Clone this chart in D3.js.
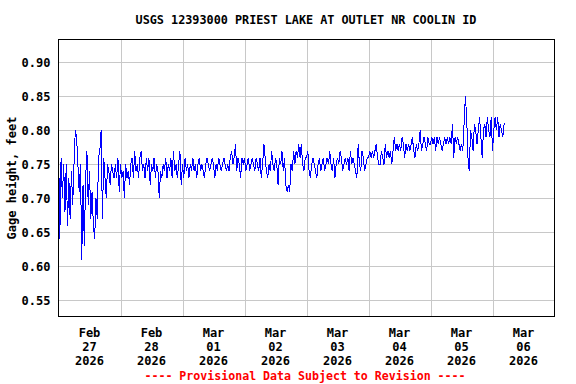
<!DOCTYPE html>
<html><head><meta charset="utf-8">
<script src="https://cdn.jsdelivr.net/npm/d3@7"></script>
<style>html,body{margin:0;padding:0;background:#fff;} svg{display:block}</style>
</head><body><svg id="c" width="576" height="384"></svg>
<script>
const title = "USGS 12393000 PRIEST LAKE AT OUTLET NR COOLIN ID";
const yTitle = "Gage height, feet";
const footer = "---- Provisional Data Subject to Revision ----";

// Gage height readings in hundredths of a foot, every 30 minutes from Feb 27 2026 00:00
const feb27 = [79,64,76,70,75,68,75,66,73,67,74,69,75,80,79,75,71,75,61,72,63,73,77,69,74,67,71,66,64,70,67,76,77,80,67,76,73,70,75,74,72,75,74,73,75,73,76,71];
const feb28 = [75,73,74,70,75,73,74,72,75,76,73,77,74,75,73,76,77,74,75,73,76,74,76,72,75,74,76,73,75,74,70,74,73,75,74,76,73,75,74,76,73,77,74,75,73,75,77,72];
const mar01 = [75,73,76,74,75,73,75,74,76,74,75,73,75,76,74,75,74,73,75,76,75,74,75,76,75,73,75,74,76,75,74,75,76,75,74,75,74,76,77,75,76,78,74,76,75,73,76,75];
const mar02 = [76,74,75,76,74,75,76,75,74,76,75,74,76,73,75,78,76,74,73,75,74,77,75,74,76,75,72,76,75,77,74,76,72,71,72,71,75,74,77,75,77,76,78,76,78,75,74,76];
const mar03 = [76,77,74,73,75,76,75,74,73,75,76,74,75,76,74,75,76,75,77,75,74,76,73,75,76,75,77,76,74,75,76,75,76,74,77,75,76,75,74,73,78,75,74,77,76,74,75,76];
const mar04 = [76,77,76,77,76,77,78,76,75,75,77,76,75,78,76,77,76,77,75,77,79,77,78,77,78,77,79,78,76,78,77,78,77,78,79,77,76,78,77,78,80,77,78,79,78,77,79,78];
const mar05 = [78,79,78,79,77,79,78,79,78,77,78,79,78,79,78,79,78,81,76,79,78,79,78,77,78,77,81,85,82,76,74,80,79,77,81,80,78,80,82,79,76,80,81,79,82,80,79,82];
const mar06 = [77,80,82,80,82,79,81,80,79,81,81];

const yTicks = [0.55, 0.60, 0.65, 0.70, 0.75, 0.80, 0.85, 0.90];
const dayLabels = [["Feb","27","2026"],["Feb","28","2026"],["Mar","01","2026"],["Mar","02","2026"],["Mar","03","2026"],["Mar","04","2026"],["Mar","05","2026"],["Mar","06","2026"]];

const startMs = Date.UTC(2026, 1, 27, 0, 0);
const endMs = Date.UTC(2026, 2, 7, 0, 0);
const stepMs = 30 * 60 * 1000;
const dayMs = 24 * 3600 * 1000;

const values = [].concat(feb27, feb28, mar01, mar02, mar03, mar04, mar05, mar06);
const series = values.map((v, i) => ({t: new Date(startMs + i * stepMs), v: v / 100}));

const svg = d3.select("#c");
const L = 58.5, R = 554.5, T = 39.5, B = 316.5;
const x = d3.scaleUtc().domain([new Date(startMs), new Date(endMs)]).range([L, R]);
const y = d3.scaleLinear().domain([0.5262, 0.9338]).range([B, T]);

const font = "'DejaVu Sans Mono', 'Liberation Mono', monospace";

svg.append("rect").attr("width", 576).attr("height", 384).attr("fill", "#fff");

// horizontal gridlines + labels
const yAxis = d3.axisLeft(y).tickValues(yTicks).tickSize(-(R - L)).tickPadding(8).tickFormat(d3.format(".2f"));
const gy = svg.append("g").attr("transform", `translate(${L},0)`).call(yAxis);
gy.select(".domain").remove();
gy.selectAll(".tick line").attr("stroke", "#c8c8c8").attr("stroke-width", 1).attr("shape-rendering", "crispEdges");
gy.selectAll(".tick text").attr("font-family", font).attr("font-weight", "bold").attr("font-size", 12).attr("fill", "#000");

// vertical day gridlines
const dayLines = d3.range(1, 8).map(d => new Date(startMs + d * dayMs));
svg.append("g").selectAll("line").data(dayLines).join("line")
  .attr("x1", d => Math.round(x(d)) + 0.5).attr("x2", d => Math.round(x(d)) + 0.5)
  .attr("y1", T).attr("y2", B).attr("stroke", "#c8c8c8").attr("shape-rendering", "crispEdges");

// x labels at noon
const noon = dayLabels.map((d, i) => ({lab: d, t: new Date(startMs + i * dayMs + dayMs / 2)}));
const gx = svg.append("g");
noon.forEach(n => {
  const t = gx.append("text").attr("x", x(n.t)).attr("y", 337).attr("text-anchor", "middle")
    .attr("font-family", font).attr("font-weight", "bold").attr("font-size", 12).attr("fill", "#000");
  n.lab.forEach((s, k) => t.append("tspan").attr("x", x(n.t)).attr("y", 337 + k * 14).text(s));
});

// clip + line
svg.append("clipPath").attr("id", "clip").append("rect").attr("x", L).attr("y", T).attr("width", R - L).attr("height", B - T);
const line = d3.line().x(d => x(d.t)).y(d => y(d.v));
svg.append("path").datum(series).attr("clip-path", "url(#clip)")
  .attr("d", line).attr("fill", "none").attr("stroke", "#0000ff").attr("stroke-width", 1)
  .attr("shape-rendering", "crispEdges");

// frame
svg.append("rect").attr("x", L).attr("y", T).attr("width", R - L).attr("height", B - T)
  .attr("fill", "none").attr("stroke", "#000").attr("stroke-width", 1).attr("shape-rendering", "crispEdges");

// title
svg.append("text").attr("x", 306).attr("y", 24).attr("text-anchor", "middle")
  .attr("font-family", font).attr("font-weight", "bold").attr("font-size", 11.8).text(title);

// y title
svg.append("text").attr("transform", `translate(16,${(T + B) / 2}) rotate(-90)`).attr("text-anchor", "middle")
  .attr("font-family", font).attr("font-weight", "bold").attr("font-size", 12).text(yTitle);

// footer
svg.append("text").attr("x", 305).attr("y", 380).attr("text-anchor", "middle")
  .attr("font-family", font).attr("font-weight", "bold").attr("font-size", 11.6).attr("fill", "#ff0000").text(footer);
</script></body></html>
